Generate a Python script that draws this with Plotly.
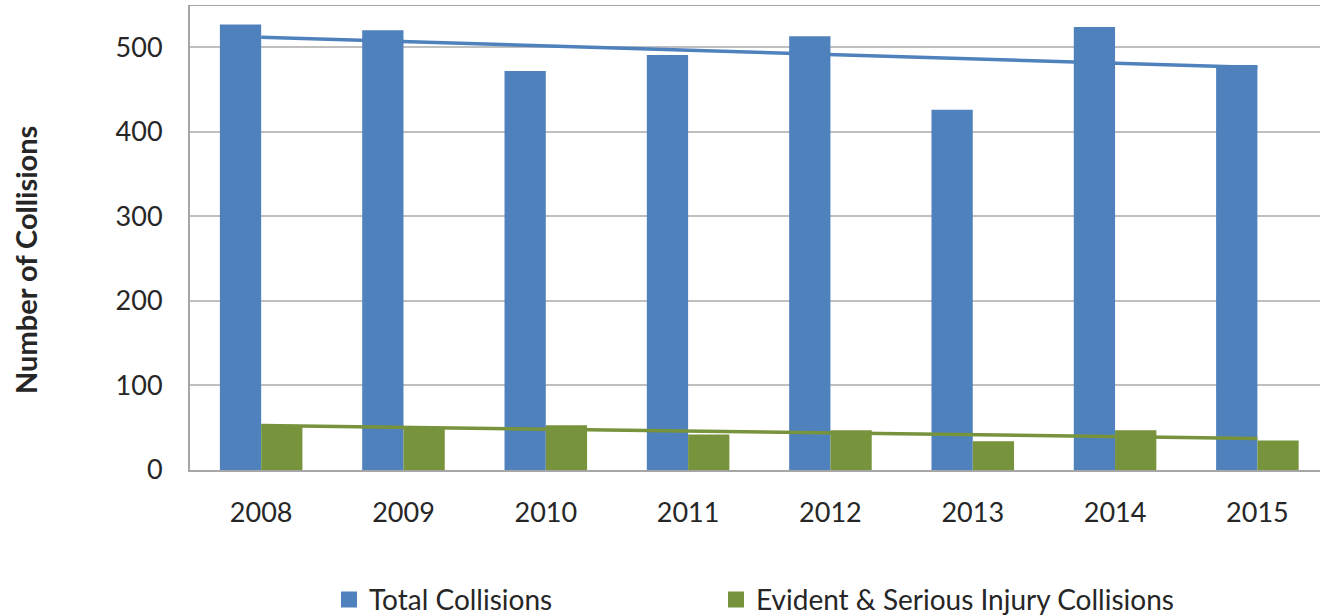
import numpy as np
import plotly.graph_objects as go

years = ["2008", "2009", "2010", "2011", "2012", "2013", "2014", "2015"]
total_collisions = [527, 520, 472, 491, 513, 426, 524, 479]
serious_collisions = [52, 50, 53, 42, 47, 34, 47, 35]
y_ticks = [0, 100, 200, 300, 400, 500]

BLUE = "#4F81BD"
GREEN = "#77933C"
FONT = "Lato"

xi = np.arange(len(years))
tot_fit = np.polyval(np.polyfit(xi, total_collisions, 1), xi)
ser_fit = np.polyval(np.polyfit(xi, serious_collisions, 1), xi)

fig = go.Figure()
fig.add_trace(go.Bar(x=years, y=total_collisions, name="Total Collisions", showlegend=False,
                     marker=dict(color=BLUE, line=dict(width=0))))
fig.add_trace(go.Bar(x=years, y=serious_collisions, name="Evident & Serious Injury Collisions",
                     showlegend=False, marker=dict(color=GREEN, line=dict(width=0))))
fig.add_trace(go.Scatter(x=years, y=tot_fit, mode="lines", showlegend=False,
                         line=dict(color=BLUE, width=3.5), hoverinfo="skip"))
fig.add_trace(go.Scatter(x=years, y=ser_fit, mode="lines", showlegend=False,
                         line=dict(color=GREEN, width=3.5), hoverinfo="skip"))
# legend entries with square swatches
fig.add_trace(go.Scatter(x=[None], y=[None], mode="markers", name="Total Collisions",
                         marker=dict(symbol="square", size=16, color=BLUE), legend="legend"))
fig.add_trace(go.Scatter(x=[None], y=[None], mode="markers",
                         name="Evident & Serious Injury Collisions",
                         marker=dict(symbol="square", size=16, color=GREEN), legend="legend2"))

leg_common = dict(orientation="h", yanchor="middle", y=-0.279, xanchor="left",
                  font=dict(size=28, family=FONT), itemwidth=30, bgcolor="rgba(0,0,0,0)",
                  itemsizing="trace")

fig.update_layout(
    width=1320, height=616,
    margin=dict(l=190, r=0, t=5, b=146, autoexpand=False),
    paper_bgcolor="white", plot_bgcolor="white",
    barmode="group", bargap=0.42, bargroupgap=0,
    font=dict(family=FONT, size=27, color="#262626"),
    legend=dict(x=0.123, **leg_common),
    legend2=dict(x=0.4655, **leg_common),
    shapes=[dict(type="line", xref="paper", yref="y", x0=0, x1=1, y0=550, y1=550,
                 line=dict(color="#A6A6A6", width=2))],
    annotations=[dict(text="<b>Number of Collisions</b>", xref="paper", yref="paper",
                      x=-0.146, y=0.4516, xanchor="center", yanchor="middle",
                      textangle=-90, showarrow=False, font=dict(size=29, family=FONT))],
)
fig.update_xaxes(type="category", range=[-0.5, 7.44], showline=True, linecolor="#A6A6A6",
                 linewidth=2, ticks="", tickfont=dict(size=27), showgrid=False,
                 ticklabelstandoff=18)
fig.update_yaxes(range=[0, 550], tickvals=y_ticks, showgrid=True, gridcolor="#BFBFBF",
                 gridwidth=1.5, showline=True, linecolor="#A6A6A6", linewidth=2,
                 zeroline=False, tickfont=dict(size=27), ticklabelstandoff=20)

fig.write_html("out.html", config={"displayModeBar": False},
               post_script="document.body.style.margin='0';")
